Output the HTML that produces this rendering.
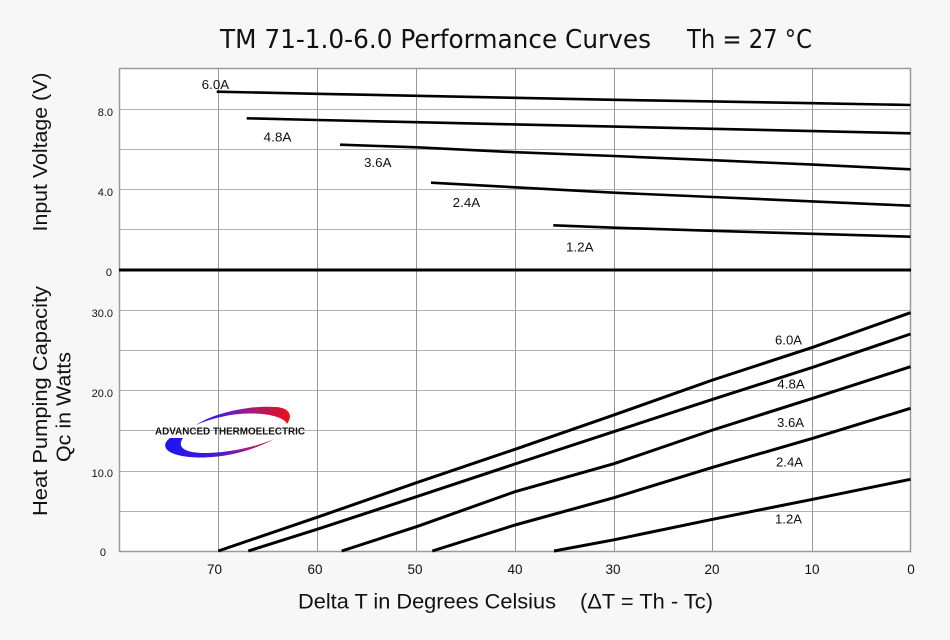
<!DOCTYPE html>
<html>
<head>
<meta charset="utf-8">
<style>
  html, body { margin:0; padding:0; background:#f7f7f7; }
  body { width:950px; height:640px; overflow:hidden; }
  svg { display:block; }
  text { font-family:"Liberation Sans", Arial, sans-serif; fill:#111; }
</style>
</head>
<body>
<svg width="950" height="640" viewBox="0 0 950 640" xmlns="http://www.w3.org/2000/svg">
  <defs>
    <linearGradient id="lg" x1="160" y1="0" x2="292" y2="0" gradientUnits="userSpaceOnUse">
      <stop offset="0" stop-color="#1414f0"/>
      <stop offset="0.45" stop-color="#4a1ad8"/>
      <stop offset="0.65" stop-color="#9a1a8a"/>
      <stop offset="1" stop-color="#f01010"/>
    </linearGradient>
  </defs>
  <rect x="0" y="0" width="950" height="640" fill="#f7f7f7"/>

  <!-- Title -->
  <text x="220" y="48" font-size="26" textLength="431" lengthAdjust="spacingAndGlyphs" style="font-family:'DejaVu Sans','Liberation Sans',sans-serif">TM 71-1.0-6.0 Performance Curves</text>
  <text x="687" y="48" font-size="26" textLength="125" lengthAdjust="spacingAndGlyphs" style="font-family:'DejaVu Sans','Liberation Sans',sans-serif">Th = 27 °C</text>

  <!-- Plot area -->
  <rect x="119.5" y="68.5" width="791" height="483" fill="#ffffff"/>

  <!-- horizontal grid -->
  <g stroke="#b0b0b0" stroke-width="1">
    <line x1="119.5" y1="109.5" x2="910.5" y2="109.5"/>
    <line x1="119.5" y1="149.5" x2="910.5" y2="149.5"/>
    <line x1="119.5" y1="189.5" x2="910.5" y2="189.5"/>
    <line x1="119.5" y1="229.5" x2="910.5" y2="229.5"/>
    <line x1="119.5" y1="310.5" x2="910.5" y2="310.5"/>
    <line x1="119.5" y1="350.5" x2="910.5" y2="350.5"/>
    <line x1="119.5" y1="390.5" x2="910.5" y2="390.5"/>
    <line x1="119.5" y1="430.5" x2="910.5" y2="430.5"/>
    <line x1="119.5" y1="471.5" x2="910.5" y2="471.5"/>
    <line x1="119.5" y1="511.5" x2="910.5" y2="511.5"/>
  </g>
  <!-- vertical grid -->
  <g stroke="#999999" stroke-width="1">
    <line x1="218.5" y1="68.5" x2="218.5" y2="551.5"/>
    <line x1="317.5" y1="68.5" x2="317.5" y2="551.5"/>
    <line x1="416.5" y1="68.5" x2="416.5" y2="551.5"/>
    <line x1="515.5" y1="68.5" x2="515.5" y2="551.5"/>
    <line x1="614.5" y1="68.5" x2="614.5" y2="551.5"/>
    <line x1="712.5" y1="68.5" x2="712.5" y2="551.5"/>
    <line x1="812.5" y1="68.5" x2="812.5" y2="551.5"/>
  </g>
  <!-- border -->
  <rect x="119.5" y="68.5" width="791" height="483" fill="none" stroke="#9a9a9a" stroke-width="1.5"/>
  <!-- zero line -->
  <line x1="119" y1="270" x2="911" y2="270" stroke="#000" stroke-width="3"/>

  <!-- Logo -->
  <g>
    <path d="M 196 425 C 214 413, 250 405, 276 407 C 290 408, 293 416, 287 424 C 285 418, 270 413, 248 413.5 C 228 414, 210 419, 196 425 Z" fill="url(#lg)"/>
    <path d="M 170 438 C 158 447, 168 458, 204 457.5 C 232 457, 258 448, 274 439 C 258 446, 234 452, 208 453 C 186 453.5, 176 448, 183 438 Z" fill="url(#lg)"/>
    <text x="155" y="434.5" font-size="10.5" font-weight="bold" textLength="150" lengthAdjust="spacingAndGlyphs" fill="#222">ADVANCED THERMOELECTRIC</text>
  </g>

  <!-- Voltage curves -->
  <g fill="none" stroke="#000" stroke-width="2.6" stroke-linecap="butt" stroke-linejoin="round">
    <polyline points="216.7,91.7 317,93.8 416.5,95.8 515,97.8 614,99.8 712.7,101.4 812.7,103.2 910.5,105"/>
    <polyline points="246.7,118.3 317,120 416.5,122.2 515,124.4 614,126.6 712.7,128.8 812.7,131.1 910.5,133.3"/>
    <polyline points="340,144.7 416.7,147.3 515,152.2 614,156 712.7,160.2 812.7,164.6 910.5,169.3"/>
    <polyline points="431,182.7 515,187.3 614,192.7 712.7,197 812.7,201.4 910.5,205.7"/>
    <polyline points="553.3,225.3 614,227.7 712.7,230.8 812.7,233.8 910.5,236.7"/>
  </g>

  <!-- Heat pumping curves -->
  <g fill="none" stroke="#000" stroke-width="3" stroke-linecap="butt" stroke-linejoin="round">
    <polyline points="218.3,551 317,517.3 416.5,482.7 515,449.3 614,414.9 712.7,380 812.7,347.3 910.5,312.7"/>
    <polyline points="248.3,551 317,529.3 416.5,496.7 515,464 614,431.6 712.7,399.3 812.7,367.3 910.5,334"/>
    <polyline points="341.7,551 416.5,526.7 515,491.7 614,463.7 712.7,430 812.7,398.3 910.5,366.7"/>
    <polyline points="432.3,551 515,525 614,497.7 712.7,467.3 812.7,438.3 910.5,408.3"/>
    <polyline points="554,551 614,539.8 712.7,519.3 812.7,499.3 910.5,479.3"/>
  </g>

  <!-- Curve labels (top) -->
  <g font-size="13">
    <text x="201.7" y="89" textLength="27.5" lengthAdjust="spacingAndGlyphs">6.0A</text>
    <text x="263.5" y="141.5" textLength="28" lengthAdjust="spacingAndGlyphs">4.8A</text>
    <text x="364" y="167" textLength="27.5" lengthAdjust="spacingAndGlyphs">3.6A</text>
    <text x="452.7" y="207" textLength="27.5" lengthAdjust="spacingAndGlyphs">2.4A</text>
    <text x="566" y="251.5" textLength="27.5" lengthAdjust="spacingAndGlyphs">1.2A</text>
  </g>
  <!-- Curve labels (bottom) -->
  <g font-size="13">
    <text x="775" y="344.7" textLength="27" lengthAdjust="spacingAndGlyphs">6.0A</text>
    <text x="777.3" y="388.7" textLength="27.5" lengthAdjust="spacingAndGlyphs">4.8A</text>
    <text x="777" y="427" textLength="27" lengthAdjust="spacingAndGlyphs">3.6A</text>
    <text x="776" y="466.4" textLength="27" lengthAdjust="spacingAndGlyphs">2.4A</text>
    <text x="775" y="523.7" textLength="27" lengthAdjust="spacingAndGlyphs">1.2A</text>
  </g>

  <!-- Y tick labels -->
  <g font-size="11" text-anchor="end">
    <text x="113" y="116">8.0</text>
    <text x="113" y="196">4.0</text>
    <text x="112" y="276">0</text>
    <text x="113" y="317">30.0</text>
    <text x="113" y="397">20.0</text>
    <text x="113" y="477">10.0</text>
    <text x="106" y="556">0</text>
  </g>

  <!-- X tick labels -->
  <g font-size="13.5" text-anchor="middle">
    <text x="214.5" y="574">70</text>
    <text x="315" y="574">60</text>
    <text x="415" y="574">50</text>
    <text x="515" y="574">40</text>
    <text x="613" y="574">30</text>
    <text x="712" y="574">20</text>
    <text x="812" y="574">10</text>
    <text x="911" y="574">0</text>
  </g>

  <!-- X axis title -->
  <text x="298" y="608.5" font-size="21" textLength="258" lengthAdjust="spacingAndGlyphs">Delta T in Degrees Celsius</text>
  <text x="580" y="608.5" font-size="21" textLength="133" lengthAdjust="spacingAndGlyphs">(ΔT = Th - Tc)</text>

  <!-- Y axis titles -->
  <text transform="translate(47,152) rotate(-90)" font-size="20.5" text-anchor="middle" textLength="159" lengthAdjust="spacingAndGlyphs">Input Voltage (V)</text>
  <text transform="translate(47,401) rotate(-90)" font-size="20.5" text-anchor="middle" textLength="230" lengthAdjust="spacingAndGlyphs">Heat Pumping Capacity</text>
  <text transform="translate(70.5,407) rotate(-90)" font-size="20.5" text-anchor="middle" textLength="110" lengthAdjust="spacingAndGlyphs">Qc in Watts</text>
</svg>
</body>
</html>
